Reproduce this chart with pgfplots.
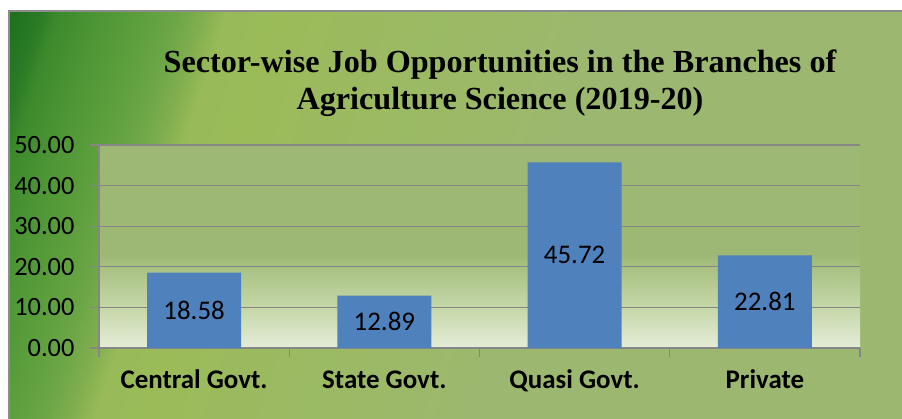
\documentclass[border=0pt]{standalone}
\usepackage{pgfplots}
\pgfplotsset{compat=1.18}
\usepackage{fontspec}
\setmainfont{Carlito}
\newfontfamily\titlefont{Liberation Serif}
\definecolor{g0}{HTML}{1E6F1E}
\definecolor{g1}{HTML}{2A7A25}
\definecolor{g2}{HTML}{3C8A2C}
\definecolor{g3}{HTML}{4E9636}
\definecolor{g4}{HTML}{5C9E3C}
\definecolor{g5}{HTML}{6CA646}
\definecolor{g6}{HTML}{80AE4E}
\definecolor{g7}{HTML}{98BA58}
\definecolor{g8}{HTML}{9BBB59}
\definecolor{g9}{HTML}{9CB870}
\definecolor{p0}{HTML}{E4EDD8}
\definecolor{p1}{HTML}{C5D7A8}
\definecolor{p2}{HTML}{A8C182}
\definecolor{p3}{HTML}{9DB874}
\definecolor{barblue}{HTML}{4F81BD}
\definecolor{gridgray}{HTML}{868686}
\definecolor{framegray}{HTML}{8C8C8C}
\pgfdeclarehorizontalshading{bgshade}{100bp}{color(0bp)=(g0); color(25.8bp)=(g0); color(27.3bp)=(g1); color(28.2bp)=(g2); color(30.2bp)=(g3); color(32bp)=(g4); color(33.8bp)=(g5); color(35bp)=(g6); color(36.2bp)=(g7); color(38.5bp)=(g8); color(55bp)=(g9); color(100bp)=(g9)}
\pgfdeclareverticalshading{plotbg}{100bp}{color(0bp)=(p0); color(25bp)=(p0); color(35bp)=(p1); color(45bp)=(p2); color(48bp)=(p3); color(100bp)=(p3)}
\begin{document}
\begin{tikzpicture}
\useasboundingbox (0,0) rectangle (902bp,419bp);
\fill[white] (0,0) rectangle (902bp,419bp);
\begin{scope}
\clip (9bp,0bp) rectangle (902bp,408bp);
\node[inner sep=0pt, outer sep=0pt, anchor=center, rotate=-18, scale=20] at (450bp,200bp) {\pgfuseshading{bgshade}};
\end{scope}
\draw[framegray, line width=1.5bp] (9bp,0bp) -- (9bp,408bp) -- (902bp,408bp);
\node[font=\titlefont\bfseries\fontsize{32.3}{32.3}\selectfont, anchor=base, inner sep=0pt] at (500bp,346bp) {Sector-wise Job Opportunities in the Branches of};
\node[font=\titlefont\bfseries\fontsize{32.3}{32.3}\selectfont, anchor=base, inner sep=0pt] at (500bp,309bp) {Agriculture Science (2019-20)};
\begin{axis}[
  at={(99bp,71bp)}, anchor=south west, scale only axis,
  width=761bp, height=203bp,
  xmin=-0.5, xmax=3.5, ymin=0, ymax=50,
  axis lines=left,
  axis line style={-, draw=gridgray, line width=1.3bp},
  ytick={0,10,20,30,40,50},
  ymajorgrids,
  grid style={gridgray, line width=1.3bp},
  xtick={-0.5,0.5,1.5,2.5,3.5},
  xticklabels={},
  extra x ticks={0,1,2,3},
  extra x tick labels={Central Govt.,State Govt.,Quasi Govt.,Private},
  extra x tick style={major tick length=0pt, xticklabel style={font=\bfseries\fontsize{27}{27}\selectfont, anchor=base, yshift=-40bp}},
  tick align=outside,
  major tick length=9bp,
  tick style={gridgray, line width=1.3bp},
  yticklabel style={font=\fontsize{26.5}{26.5}\selectfont, xshift=-12bp, /pgf/number format/.cd, fixed, fixed zerofill, precision=2, assume math mode=true},
  axis background/.style={shade, shading=plotbg},
  clip=false,
]
\addplot[ybar, bar width=94bp, fill=barblue, draw=none,
  nodes near coords={\pgfmathprintnumber[fixed,fixed zerofill,precision=2,assume math mode=true]{\pgfplotspointmeta}},
  point meta=y,
  visualization depends on={y \as \rawy},
  every node near coord/.append style={font=\fontsize{27}{27}\selectfont, anchor=center, shift={(axis direction cs:0,-\rawy/2)}},
] coordinates {(0,18.58) (1,12.89) (2,45.72) (3,22.81)};
\end{axis}
\end{tikzpicture}
\end{document}
